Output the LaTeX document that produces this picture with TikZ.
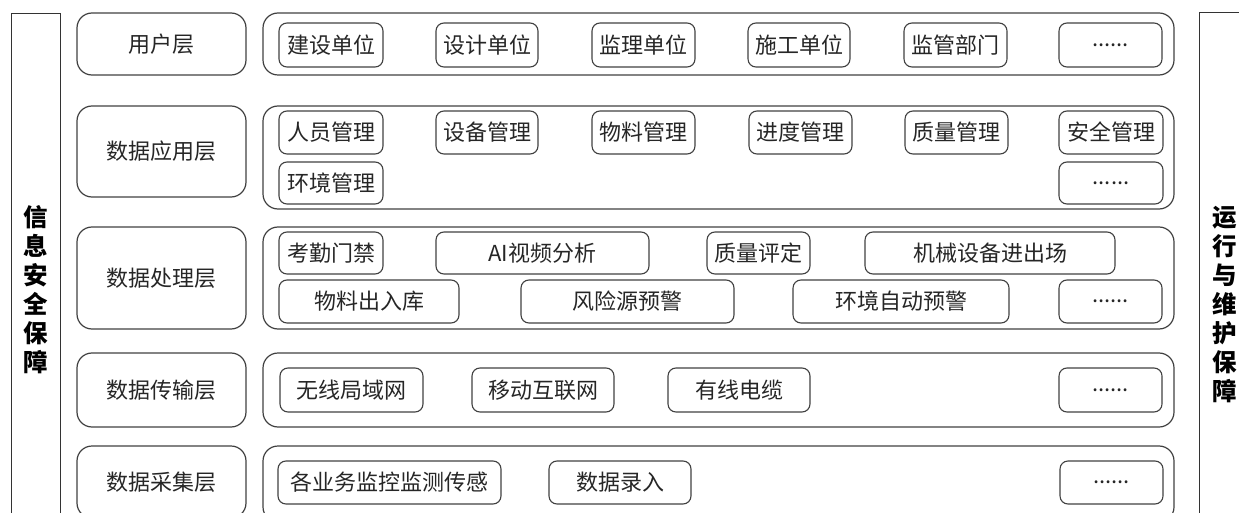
\documentclass[tikz,border=0pt]{standalone}
\usepackage{fontspec}
\newfontfamily\cjk{Noto Sans CJK SC}
\tikzset{
  x=1pt, y=-1pt,
  layerbox/.style={draw=black!75, line width=1.2pt, rounded corners=15pt, inner sep=0pt, text=black!85, font=\cjk\fontsize{22}{24}\selectfont},
  groupbox/.style={draw=black!75, line width=1.2pt, rounded corners=15pt, inner sep=0pt},
  itembox/.style={draw=black!75, line width=1.1pt, rounded corners=8pt, inner sep=0pt, text=black!85, font=\cjk\fontsize{22}{24}\selectfont},
  sidebar/.style={draw=black!80, line width=0.9pt},
  sidetext/.style={font=\cjk\bfseries\fontsize{24.5}{29}\selectfont, align=center, text=black, inner sep=0pt}
}
\newcommand\bx[7]{\node[#1, minimum width={#5-#3}, minimum height={#6-#4}] (#2) at ({(#3+#5)/2},{(#4+#6)/2}) {#7};}
\begin{document}
\begin{tikzpicture}
\useasboundingbox (0,0) rectangle (1239,513);
\clip (0,0) rectangle (1239,513);
% side bars
\draw[sidebar] (11,530) -- (11,13) -- (60,13) -- (60,530);
\draw[sidebar] (1250,12) -- (1199,12) -- (1199,530);
\node[sidetext] (left) at (36,290) {信\\息\\安\\全\\保\\障};
\node[sidetext] (right) at (1225,305) {运\\行\\与\\维\\护\\保\\障};
% layer labels
\bx{layerbox}{L1}{77}{13}{246}{75}{用户层}
\bx{layerbox}{L2}{77}{106}{246}{197}{数据应用层}
\bx{layerbox}{L3}{77}{227}{246}{329}{数据处理层}
\bx{layerbox}{L4}{77}{353}{246}{427}{数据传输层}
\bx{layerbox}{L5}{77}{446}{246}{518}{数据采集层}
% group containers
\bx{groupbox}{G1}{263}{13}{1174}{75}{}
\bx{groupbox}{G2}{263}{106}{1174}{209}{}
\bx{groupbox}{G3}{263}{227}{1174}{329}{}
\bx{groupbox}{G4}{263}{353}{1174}{427}{}
\bx{groupbox}{G5}{263}{446}{1174}{522}{}
% row 1
\bx{itembox}{a1}{279}{23}{383}{67}{建设单位}
\bx{itembox}{a2}{436}{23}{538}{67}{设计单位}
\bx{itembox}{a3}{592}{23}{695}{67}{监理单位}
\bx{itembox}{a4}{748}{23}{850}{67}{施工单位}
\bx{itembox}{a5}{904}{23}{1007}{67}{监管部门}
\bx{itembox}{a6}{1059}{23}{1162}{67}{......}
% row 2
\bx{itembox}{b1}{279}{111}{383}{154}{人员管理}
\bx{itembox}{b2}{436}{111}{538}{154}{设备管理}
\bx{itembox}{b3}{592}{111}{695}{154}{物料管理}
\bx{itembox}{b4}{749}{111}{852}{154}{进度管理}
\bx{itembox}{b5}{905}{111}{1008}{154}{质量管理}
\bx{itembox}{b6}{1059}{111}{1163}{154}{安全管理}
\bx{itembox}{b7}{279}{162}{383}{204}{环境管理}
\bx{itembox}{b8}{1059}{162}{1163}{204}{......}
% row 3
\bx{itembox}{c1}{279}{232}{383}{274}{考勤门禁}
\bx{itembox}{c2}{436}{232}{649}{274}{AI视频分析}
\bx{itembox}{c3}{707}{232}{810}{274}{质量评定}
\bx{itembox}{c4}{865}{232}{1115}{274}{机械设备进出场}
\bx{itembox}{c5}{279}{280}{459}{323}{物料出入库}
\bx{itembox}{c6}{521}{280}{734}{323}{风险源预警}
\bx{itembox}{c7}{793}{280}{1009}{323}{环境自动预警}
\bx{itembox}{c8}{1059}{280}{1162}{323}{......}
% row 4
\bx{itembox}{d1}{280}{368}{423}{412}{无线局域网}
\bx{itembox}{d2}{472}{368}{614}{412}{移动互联网}
\bx{itembox}{d3}{668}{368}{810}{412}{有线电缆}
\bx{itembox}{d4}{1059}{368}{1162}{412}{......}
% row 5
\bx{itembox}{e1}{278}{461}{501}{504}{各业务监控监测传感}
\bx{itembox}{e2}{549}{461}{691}{504}{数据录入}
\bx{itembox}{e3}{1060}{461}{1163}{504}{......}
\end{tikzpicture}
\end{document}
